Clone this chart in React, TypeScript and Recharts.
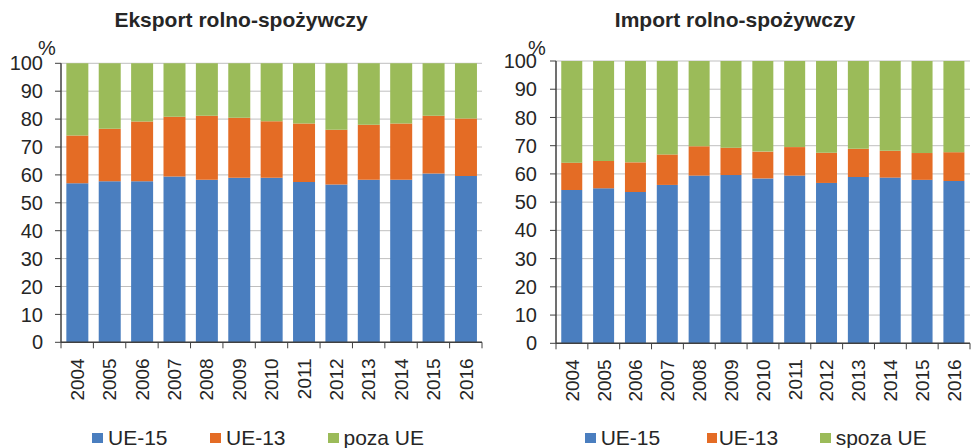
import React from 'react';
import { BarChart, Bar, XAxis, YAxis, CartesianGrid } from 'recharts';

const years = ['2004','2005','2006','2007','2008','2009','2010','2011','2012','2013','2014','2015','2016'];

// Eksport rolno-spożywczy (%)
const exportUE15 = [57.0, 57.7, 57.7, 59.4, 58.3, 59.0, 59.0, 57.5, 56.6, 58.3, 58.3, 60.5, 59.6];
const exportUE13 = [17.1, 18.8, 21.4, 21.4, 22.9, 21.5, 20.2, 20.9, 19.6, 19.7, 20.1, 20.7, 20.6];
const exportPoza = [25.9, 23.5, 20.9, 19.2, 18.8, 19.5, 20.8, 21.6, 23.8, 22.0, 21.6, 18.8, 19.8];

// Import rolno-spożywczy (%)
const importUE15 = [54.3, 54.9, 53.6, 56.1, 59.4, 59.6, 58.4, 59.4, 56.8, 58.9, 58.7, 57.9, 57.5];
const importUE13 = [9.7, 9.7, 10.5, 10.8, 10.4, 9.7, 9.5, 10.1, 10.7, 10.0, 9.5, 9.5, 10.2];
const importSpoza = [36.0, 35.4, 35.9, 33.1, 30.2, 30.7, 32.1, 30.5, 32.5, 31.1, 31.8, 32.6, 32.3];

const yTicks = [0, 10, 20, 30, 40, 50, 60, 70, 80, 90, 100];

const exportLabels = ['UE-15', 'UE-13', 'poza UE'];
const importLabels = ['UE-15', 'UE-13', 'spoza UE'];
const colors = ['#4A7EBF', '#E46C25', '#9BBB59'];

const exportData = years.map((y, i) => ({ year: y, a: exportUE15[i], b: exportUE13[i], c: exportPoza[i] }));
const importData = years.map((y, i) => ({ year: y, a: importUE15[i], b: importUE13[i], c: importSpoza[i] }));

const FONT = '"Liberation Sans", Arial, sans-serif';
const TXT = '#262626';
const AXIS = '#404040';

function makeTick(band: number, count: number) {
  return (props: any) => {
    const { x, y, payload, index } = props;
    const ly = y + 16;
    return (
      <g>
        <line x1={x - band / 2} x2={x - band / 2} y1={y} y2={y + 6} stroke={AXIS} strokeWidth={1} />
        {index === count - 1 && (
          <line x1={x + band / 2} x2={x + band / 2} y1={y} y2={y + 6} stroke={AXIS} strokeWidth={1} />
        )}
        <text
          x={x}
          y={ly}
          dy="0.355em"
          transform={`rotate(-90 ${x} ${ly})`}
          textAnchor="end"
          fontSize={19}
          fill={TXT}
        >
          {payload.value}
        </text>
      </g>
    );
  };
}

type PanelProps = {
  left: number;
  width: number;
  plotLeft: number;
  plotRight: number;
  plotTop: number;
  plotBottom: number;
  data: any[];
  labels: string[];
  title: string;
  titleCenter: number;
  pctX: number;
  tickMargin: number;
  legendX: number[];
  legendTextOffset: number[];
};

function Panel(p: PanelProps) {
  const H = 448;
  const band = (p.plotRight - p.plotLeft) / years.length;
  return (
    <>
      <div
        style={{
          position: 'absolute',
          left: p.titleCenter - 200,
          width: 400,
          top: 8.9,
          textAlign: 'center',
          fontSize: 21,
          lineHeight: '21px',
          fontWeight: 'bold',
          color: TXT,
        }}
      >
        {p.title}
      </div>
      <div
        style={{
          position: 'absolute',
          left: p.pctX,
          top: 38,
          fontSize: 20,
          lineHeight: '20px',
          color: TXT,
        }}
      >
        %
      </div>
      <div style={{ position: 'absolute', left: p.left, top: 0 }}>
        <BarChart
          width={p.width}
          height={H}
          data={p.data}
          margin={{ top: p.plotTop, right: p.left + p.width - p.plotRight, left: 0, bottom: 0 }}
          barCategoryGap="16.5%"
        >
          <CartesianGrid vertical={false} stroke="#BFBFBF" strokeWidth={1} />
          <XAxis
            dataKey="year"
            interval={0}
            height={H - p.plotBottom}
            tickLine={false}
            tickSize={0}
            tickMargin={0}
            axisLine={{ stroke: AXIS, strokeWidth: 1.5 }}
            tick={makeTick(band, years.length)}
          />
          <YAxis
            domain={[0, 100]}
            ticks={yTicks}
            interval={0}
            width={p.plotLeft - p.left}
            tickSize={6}
            tickMargin={p.tickMargin}
            tick={{ fontSize: 20, fill: TXT }}
            tickLine={{ stroke: AXIS }}
            axisLine={{ stroke: AXIS, strokeWidth: 1.5 }}
          />
          <YAxis
            yAxisId="r"
            orientation="right"
            domain={[0, 100]}
            width={0}
            tick={false}
            tickLine={false}
            axisLine={{ stroke: '#BFBFBF' }}
          />
          <Bar dataKey="a" stackId="s" fill={colors[0]} isAnimationActive={false} />
          <Bar dataKey="b" stackId="s" fill={colors[1]} isAnimationActive={false} />
          <Bar dataKey="c" stackId="s" fill={colors[2]} isAnimationActive={false} />
        </BarChart>
      </div>
      {p.labels.map((lab, i) => (
        <React.Fragment key={lab}>
          <div
            style={{
              position: 'absolute',
              left: p.legendX[i],
              top: 432.7,
              width: 10.5,
              height: 10.5,
              background: colors[i],
            }}
          />
          <div
            style={{
              position: 'absolute',
              left: p.legendX[i] + p.legendTextOffset[i],
              top: 427.2,
              fontSize: 21,
              lineHeight: '21px',
              color: TXT,
              whiteSpace: 'nowrap',
            }}
          >
            {lab}
          </div>
        </React.Fragment>
      ))}
    </>
  );
}

export default function App() {
  return (
    <div
      style={{
        position: 'absolute',
        left: 0,
        top: 0,
        width: 971,
        height: 448,
        background: '#fff',
        fontFamily: FONT,
        overflow: 'hidden',
      }}
    >
      <Panel
        left={0}
        width={490}
        plotLeft={61}
        plotRight={482}
        plotTop={63.3}
        plotBottom={342.3}
        data={exportData}
        labels={exportLabels}
        title="Eksport rolno-spożywczy"
        titleCenter={241}
        pctX={38}
        tickMargin={12}
        legendX={[92, 210, 328]}
        legendTextOffset={[16, 16, 15.5]}
      />
      <Panel
        left={490}
        width={481}
        plotLeft={556}
        plotRight={970}
        plotTop={61}
        plotBottom={343.3}
        data={importData}
        labels={importLabels}
        title="Import rolno-spożywczy"
        titleCenter={735}
        pctX={528}
        tickMargin={13}
        legendX={[585, 706.7, 820]}
        legendTextOffset={[15.7, 12, 15.7]}
      />
    </div>
  );
}
